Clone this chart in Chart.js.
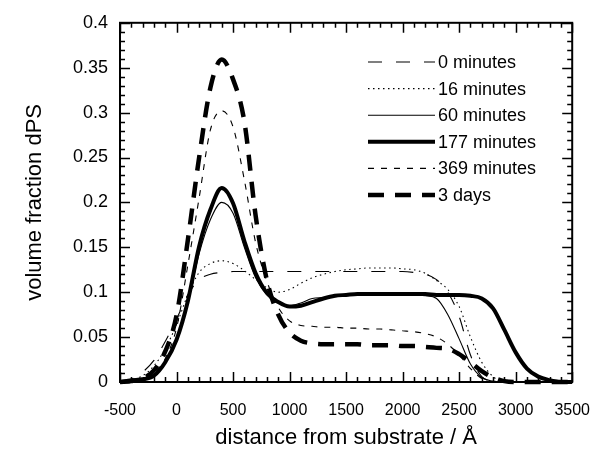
<!DOCTYPE html>
<html>
<head>
<meta charset="utf-8">
<script src="https://cdn.jsdelivr.net/npm/chart.js@4.4.1/dist/chart.umd.min.js"></script>
<style>
  html, body { margin: 0; padding: 0; background: #fff; }
  #wrap { width: 609px; height: 451px; }
</style>
</head>
<body>
<div id="wrap"><canvas id="c" width="609" height="451"></canvas></div>
<script>
// ---- data ----
const distance = [-500, -400, -300, -200, -100, 0, 100, 200, 300, 400, 500, 600, 700, 800, 900, 1000,
  1100, 1200, 1300, 1400, 1500, 1600, 1700, 1800, 1900, 2000, 2100, 2200, 2300, 2400, 2500,
  2600, 2700, 2800, 2900, 3000, 3100, 3200, 3300, 3400, 3500];

const min0 = [0, 0.003, 0.011, 0.024, 0.045, 0.07, 0.097, 0.114, 0.12, 0.122, 0.123, 0.123, 0.123, 0.123, 0.123, 0.123,
  0.123, 0.123, 0.123, 0.123, 0.123, 0.123, 0.123, 0.123, 0.123, 0.123, 0.122, 0.12, 0.114, 0.1, 0.073,
  0.03, 0.006, 0.001, 0, 0, 0, 0, 0, 0, 0];

const min16 = [0, 0.002, 0.007, 0.018, 0.037, 0.064, 0.097, 0.122, 0.132, 0.135, 0.132, 0.124, 0.114, 0.105, 0.1, 0.103,
  0.11, 0.116, 0.12, 0.123, 0.125, 0.126, 0.127, 0.127, 0.127, 0.126, 0.125, 0.121, 0.113, 0.103, 0.084,
  0.05, 0.022, 0.006, 0, 0, 0, 0, 0, 0, 0];

const min60 = [0, 0.001, 0.003, 0.008, 0.022, 0.047, 0.088, 0.143, 0.181, 0.2, 0.188, 0.15, 0.116, 0.097, 0.088, 0.085,
  0.088, 0.093, 0.094, 0.095, 0.096, 0.097, 0.097, 0.097, 0.097, 0.097, 0.097, 0.096, 0.093, 0.075, 0.048,
  0.02, 0.005, 0.001, 0, 0, 0, 0, 0, 0, 0];

const min177 = [0, 0.002, 0.003, 0.007, 0.022, 0.047, 0.09, 0.151, 0.192, 0.216, 0.199, 0.157, 0.121, 0.099, 0.089, 0.084,
  0.085, 0.089, 0.093, 0.096, 0.097, 0.098, 0.098, 0.098, 0.098, 0.098, 0.098, 0.098, 0.097, 0.097, 0.097,
  0.096, 0.093, 0.082, 0.058, 0.033, 0.015, 0.006, 0.002, 0, 0];

const min369 = [0, 0.001, 0.004, 0.01, 0.026, 0.06, 0.13, 0.205, 0.281, 0.302, 0.284, 0.225, 0.155, 0.112, 0.083, 0.068,
  0.063, 0.062, 0.061, 0.061, 0.06, 0.06, 0.059, 0.059, 0.058, 0.057, 0.056, 0.054, 0.05, 0.042, 0.03,
  0.015, 0.004, 0, 0, 0, 0, 0, 0, 0, 0];

const days3 = [0, 0.001, 0.004, 0.013, 0.034, 0.074, 0.158, 0.25, 0.328, 0.359, 0.337, 0.29, 0.185, 0.113, 0.075, 0.055,
  0.046, 0.043, 0.042, 0.042, 0.042, 0.042, 0.041, 0.041, 0.041, 0.04, 0.04, 0.039, 0.038, 0.037, 0.031,
  0.022, 0.012, 0.005, 0.001, 0, 0, 0, 0, 0, 0];

const seriesLabels = ['0 minutes', '16 minutes', '60 minutes', '177 minutes', '369 minutes', '3 days'];
const xTickLabels = ['-500', '0', '500', '1000', '1500', '2000', '2500', '3000', '3500'];
const yTickLabels = ['0', '0.05', '0.1', '0.15', '0.2', '0.25', '0.3', '0.35', '0.4'];
const xTitle = 'distance from substrate / Å';
const yTitle = 'volume fraction dPS';

// ---- styles ----
const FONT = '"Liberation Sans", Arial, Helvetica, sans-serif';
const styles = [
  { width: 1.1, dash: [14, 14] },
  { width: 1.1, dash: [1.5, 3.5] },
  { width: 1.1, dash: [] },
  { width: 4, dash: [] },
  { width: 1.1, dash: [6, 7] },
  { width: 4.5, dash: [16, 11] }
];
const seriesValues = [min0, min16, min60, min177, min369, days3];

const datasets = seriesValues.map((vals, k) => ({
  label: seriesLabels[k],
  data: distance.map((x, i) => ({ x: x, y: vals[i] })),
  borderColor: '#000',
  backgroundColor: '#000',
  borderWidth: styles[k].width,
  borderDash: styles[k].dash,
  borderCapStyle: 'butt',
  pointRadius: 0,
  fill: false,
  cubicInterpolationMode: 'monotone',
  clip: false
}));

// frame + inward ticks on all four sides, from the library scales
const framePlugin = {
  id: 'frame',
  afterDatasetsDraw(chart) {
    const ctx = chart.ctx;
    const xs = chart.scales.x, ys = chart.scales.y;
    const a = chart.chartArea;
    ctx.save();
    ctx.strokeStyle = '#000';
    ctx.setLineDash([]);
    ctx.lineWidth = 1.5;
    ctx.beginPath();
    for (let v = xs.min, i = 0; v <= xs.max + 1e-9; v += 100, i++) {
      const len = (i % 5 === 0) ? 10 : 5;
      const px = Math.round(xs.getPixelForValue(v)) + 0.5;
      ctx.moveTo(px, a.bottom); ctx.lineTo(px, a.bottom - len);
      ctx.moveTo(px, a.top); ctx.lineTo(px, a.top + len);
    }
    for (let i = 0; i <= 40; i++) {
      const v = ys.min + i * 0.01;
      const len = (i % 5 === 0) ? 10 : 5;
      const py = Math.round(ys.getPixelForValue(v)) + 0.5;
      ctx.moveTo(a.left, py); ctx.lineTo(a.left + len, py);
      ctx.moveTo(a.right, py); ctx.lineTo(a.right - len, py);
    }
    ctx.stroke();
    ctx.lineWidth = 2;
    ctx.strokeRect(a.left, a.top, a.right - a.left, a.bottom - a.top);
    ctx.restore();
  }
};

// legend drawn with each dataset's own line style
const legendPlugin = {
  id: 'lineLegend',
  afterDraw(chart) {
    const ctx = chart.ctx;
    ctx.save();
    ctx.font = '18px ' + FONT;
    ctx.fillStyle = '#000';
    ctx.textBaseline = 'middle';
    ctx.textAlign = 'left';
    chart.data.datasets.forEach((ds, i) => {
      const y = 62 + i * 26.6;
      ctx.strokeStyle = '#000';
      ctx.lineWidth = ds.borderWidth;
      ctx.setLineDash(ds.borderDash || []);
      ctx.lineCap = 'butt';
      ctx.beginPath();
      ctx.moveTo(368, y); ctx.lineTo(435, y);
      ctx.stroke();
      ctx.setLineDash([]);
      ctx.fillText(ds.label, 438, y + 1);
    });
    ctx.restore();
  }
};

new Chart(document.getElementById('c'), {
  type: 'line',
  data: { datasets: datasets },
  options: {
    responsive: false,
    animation: false,
    devicePixelRatio: 1,
    layout: { padding: { left: 0, right: 21, top: 20, bottom: 0 } },
    plugins: { legend: { display: false }, tooltip: { enabled: false } },
    scales: {
      x: {
        type: 'linear', position: 'bottom', min: -500, max: 3500,
        grid: { display: false, drawTicks: false },
        border: { display: false },
        ticks: {
          stepSize: 500, color: '#000', padding: 19,
          font: { family: FONT, size: 16 },
          maxRotation: 0, autoSkip: false,
          callback: (v, i) => xTickLabels[i]
        },
        title: { display: true, text: xTitle, color: '#000', font: { family: FONT, size: 22 }, padding: { top: 0, bottom: 0 } },
        afterFit: (s) => { s.height = 69; }
      },
      y: {
        type: 'linear', min: 0, max: 0.4,
        grid: { display: false, drawTicks: false },
        border: { display: false },
        ticks: {
          stepSize: 0.05, color: '#000', padding: 12,
          font: { family: FONT, size: 18 },
          autoSkip: false,
          callback: (v, i) => yTickLabels[i]
        },
        title: { display: true, text: yTitle, color: '#000', font: { family: FONT, size: 22 }, padding: { top: 22, bottom: 0 } },
        afterFit: (s) => { s.width = 120; }
      }
    }
  },
  plugins: [framePlugin, legendPlugin]
});
</script>
</body>
</html>
